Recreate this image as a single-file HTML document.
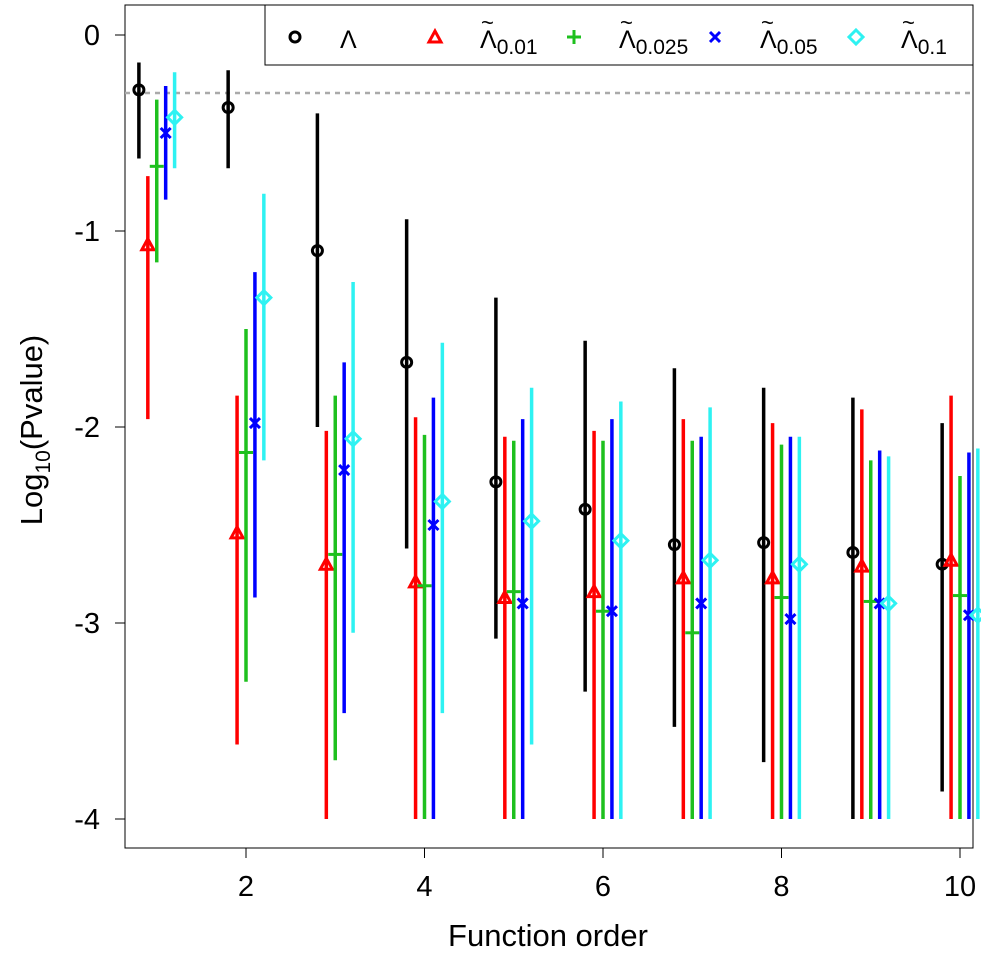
<!DOCTYPE html>
<html><head><meta charset="utf-8"><style>
body{margin:0;background:#fff;}
svg text{font-family:"Liberation Sans",sans-serif;}
</style></head><body>
<svg id="chart" width="981" height="950" xmlns="http://www.w3.org/2000/svg">
<rect x="125" y="5" width="848" height="843" fill="none" stroke="#000" stroke-width="1"/>
<line x1="125" x2="973" y1="93" y2="93" stroke="#aaa" stroke-width="2.5" stroke-dasharray="5,5"/>
<g id="axes"></g>
<g id="marks"></g>
<text x="548" y="946" font-size="31" text-anchor="middle">Function order</text>
<text transform="translate(42,430) rotate(-90)" font-size="31" text-anchor="middle">Log<tspan font-size="21" dy="8">10</tspan><tspan dy="-8">(Pvalue)</tspan></text>
<g>
<rect x="265" y="5" width="708" height="60" fill="#fff" stroke="#000" stroke-width="1"/>
<g id="legend-items"></g>
</g>
</svg>
<script>
const orders=[1,2,3,4,5,6,7,8,9,10];
const xTicks=[2,4,6,8,10];
const yTicks=[0,-1,-2,-3,-4];
const blackPt=[-0.28,-0.37,-1.10,-1.67,-2.28,-2.42,-2.60,-2.59,-2.64,-2.70];
const blackHi=[-0.14,-0.18,-0.40,-0.94,-1.34,-1.56,-1.70,-1.80,-1.85,-1.98];
const blackLo=[-0.63,-0.68,-2.00,-2.62,-3.08,-3.35,-3.53,-3.71,-4,-3.86];
const redPt=[-1.07,-2.54,-2.70,-2.79,-2.87,-2.84,-2.77,-2.77,-2.71,-2.68];
const redHi=[-0.72,-1.84,-2.02,-1.95,-2.05,-2.02,-1.96,-1.98,-1.91,-1.84];
const redLo=[-1.96,-3.62,-4,-4,-4,-4,-4,-4,-4,-4];
const greenPt=[-0.67,-2.13,-2.65,-2.81,-2.84,-2.94,-3.05,-2.87,-2.89,-2.86];
const greenHi=[-0.33,-1.50,-1.84,-2.04,-2.07,-2.07,-2.07,-2.09,-2.17,-2.25];
const greenLo=[-1.16,-3.30,-3.70,-4,-4,-4,-4,-4,-4,-4];
const bluePt=[-0.50,-1.98,-2.22,-2.50,-2.90,-2.94,-2.90,-2.98,-2.90,-2.96];
const blueHi=[-0.26,-1.21,-1.67,-1.85,-1.96,-1.96,-2.05,-2.05,-2.12,-2.13];
const blueLo=[-0.84,-2.87,-3.46,-4,-4,-4,-4,-4,-4,-4];
const cyanPt=[-0.42,-1.34,-2.06,-2.38,-2.48,-2.58,-2.68,-2.70,-2.90,-2.96];
const cyanHi=[-0.19,-0.81,-1.26,-1.57,-1.80,-1.87,-1.90,-2.05,-2.15,-2.11];
const cyanLo=[-0.68,-2.17,-3.05,-3.46,-3.62,-4,-4,-4,-4,-4];

const NS="http://www.w3.org/2000/svg";
const X=v=>246+(v-2)*89.25;
const Y=v=>35-v*196;
function mk(tag,attrs,parent){const e=document.createElementNS(NS,tag);for(const k in attrs)e.setAttribute(k,attrs[k]);parent.appendChild(e);return e;}
const axes=document.getElementById('axes');
xTicks.forEach(t=>{
  const l=mk('line',{x1:X(t),x2:X(t),y1:848,y2:858,stroke:'#000'},axes);
  
  
  const tx=mk('text',{x:X(t),y:896,'font-size':29,'text-anchor':'middle'},axes);tx.textContent=t;
  
  
});
yTicks.forEach(t=>{
  const l=mk('line',{x1:115,x2:125,y1:Y(t),y2:Y(t),stroke:'#000'},axes);
  
  
  const tx=mk('text',{x:100,y:Y(t)+10,'font-size':29,'text-anchor':'end'},axes);tx.textContent=t;
  
  
});
function sym(type,cx,cy,color,g){
  if(type==='circle')mk('circle',{cx,cy,r:5,fill:'none',stroke:color,'stroke-width':3},g);
  if(type==='tri')mk('polygon',{points:`${cx},${cy-6} ${cx-6},${cy+5} ${cx+6},${cy+5}`,fill:'none',stroke:color,'stroke-width':3},g);
  if(type==='plus'){mk('line',{x1:cx-7,x2:cx+7,y1:cy,y2:cy,stroke:color,'stroke-width':3},g);mk('line',{x1:cx,x2:cx,y1:cy-7,y2:cy+7,stroke:color,'stroke-width':3},g);}
  if(type==='x'){mk('line',{x1:cx-5,x2:cx+5,y1:cy-5,y2:cy+5,stroke:color,'stroke-width':3},g);mk('line',{x1:cx-5,x2:cx+5,y1:cy+5,y2:cy-5,stroke:color,'stroke-width':3},g);}
  if(type==='diamond')mk('polygon',{points:`${cx},${cy-7} ${cx+7},${cy} ${cx},${cy+7} ${cx-7},${cy}`,fill:'none',stroke:color,'stroke-width':3},g);
}
const series=[
 {name:'lambda',color:'#000',type:'circle',off:-0.2,pt:blackPt,hi:blackHi,lo:blackLo},
 {name:'lambda-001',color:'#f00',type:'tri',off:-0.1,pt:redPt,hi:redHi,lo:redLo},
 {name:'lambda-0025',color:'#1ec01e',type:'plus',off:0,pt:greenPt,hi:greenHi,lo:greenLo},
 {name:'lambda-005',color:'#00f',type:'x',off:0.1,pt:bluePt,hi:blueHi,lo:blueLo},
 {name:'lambda-01',color:'#2ef2f2',type:'diamond',off:0.2,pt:cyanPt,hi:cyanHi,lo:cyanLo}];
const marks=document.getElementById('marks');
series.forEach(s=>{
  const g=mk('g',{},marks);
  
  
  orders.forEach((o,i)=>{
    const x=X(o+s.off);
    const l=mk('line',{x1:x,x2:x,y1:Y(s.hi[i]),y2:Y(s.lo[i]),stroke:s.color,'stroke-width':3.5},g);
    
    
    sym(s.type,x,Y(s.pt[i]),s.color,g);
  });
});
const leg=document.getElementById('legend-items');
const legX=[295,435,574,715,856];
const labels=['','0.01','0.025','0.05','0.1'];
series.forEach((s,i)=>{
  const g=mk('g',{},leg);
  
  
  sym(s.type,legX[i],37,s.color,g);
  const lx=legX[i]+45;
  const t=mk('text',{x:lx,y:48,'font-size':25,'font-family':'Liberation Serif, serif'},g);
  t.textContent='Λ';
  if(i>0){
    const ti=mk('text',{x:lx+1,y:30,'font-size':22,'font-family':'Liberation Serif, serif'},g);
    ti.textContent='~';
    const ts=mk('tspan',{dy:6,'font-size':21,'font-family':'Liberation Sans, sans-serif'},t);ts.textContent=labels[i];
  }
});
</script>
</body></html>
